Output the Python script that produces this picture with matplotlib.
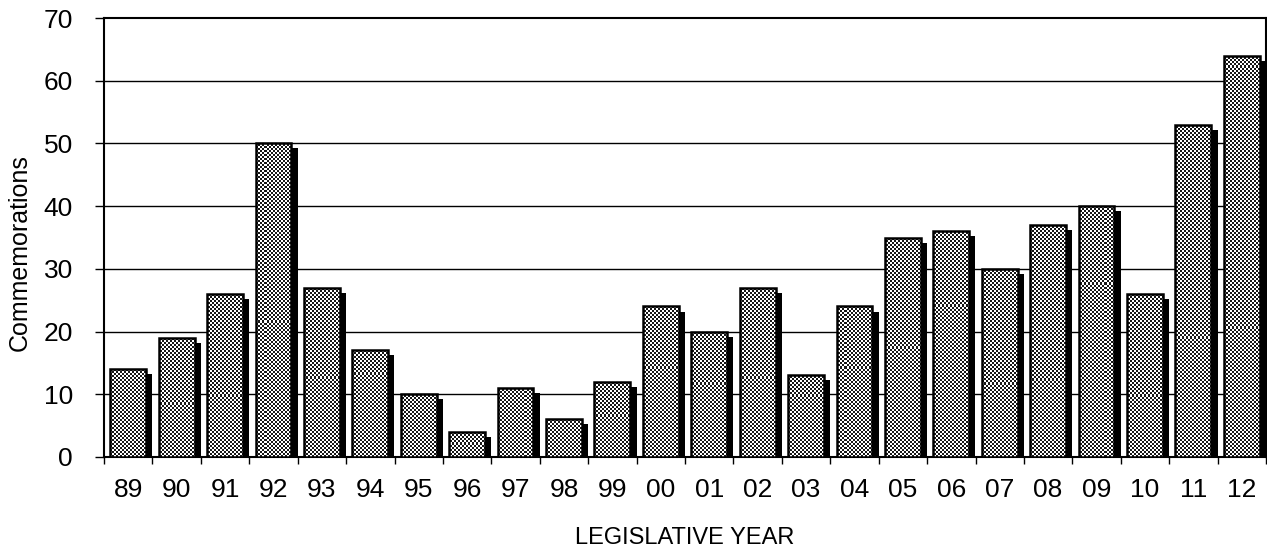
import numpy as np
import matplotlib
matplotlib.use("Agg")
import matplotlib.pyplot as plt
from matplotlib.patches import Rectangle

plt.rcParams['font.family'] = ['Liberation Sans', 'DejaVu Sans']

# data
years = ['89', '90', '91', '92', '93', '94', '95', '96', '97', '98', '99', '00',
         '01', '02', '03', '04', '05', '06', '07', '08', '09', '10', '11', '12']
counts = [14, 19, 26, 50, 27, 17, 10, 4, 11, 6, 12, 24,
          20, 27, 13, 24, 35, 36, 30, 37, 40, 26, 53, 64]

W, H = 1267, 550
fig = plt.figure(figsize=(W / 100, H / 100), dpi=100)
ax = fig.add_axes([104 / W, (H - 457) / H, (1266 - 104) / W, (457 - 18) / H])

n = len(years)
x = np.arange(n)
bw = 0.74
dx, dy = 0.13, 0.8   # shadow offset (data units)

ax.set_xlim(-0.5, n - 0.5)
ax.set_ylim(0, 70)

# fine checkerboard used as bar fill
cell = 2
nx, ny = (1266 - 104) // cell, (457 - 18) // cell
checker = (np.add.outer(np.arange(ny), np.arange(nx)) % 2).astype(float)

for xi, v in zip(x, counts):
    # shadow
    ax.add_patch(Rectangle((xi - bw / 2 + dx, 0), bw, max(v - dy, 0),
                           facecolor='black', edgecolor='none', zorder=3))
    bar = Rectangle((xi - bw / 2, 0), bw, v, facecolor='white',
                    edgecolor='none', zorder=4)
    ax.add_patch(bar)
    im = ax.imshow(checker, cmap='gray', vmin=-0.1, vmax=1,
                   extent=(-0.5, n - 0.5, 0, 70),
                   interpolation='nearest', aspect='auto', zorder=4.5)
    im.set_clip_path(bar)
    ax.add_patch(Rectangle((xi - bw / 2, 0), bw, v, facecolor='none',
                           edgecolor='black', linewidth=1.8, zorder=5))

# grid
for g in range(10, 70, 10):
    ax.axhline(g, color='black', linewidth=1, zorder=1)

for s in ax.spines.values():
    s.set_linewidth(1.5)
    s.set_color('black')

ax.set_yticks(range(0, 71, 10))
ax.tick_params(axis='y', length=6.5, width=1, labelsize=19, pad=16)
ax.set_xticks(x)
ax.set_xticklabels(years)
ax.set_xticks(np.arange(-0.5, n, 1), minor=True)
ax.tick_params(axis='x', which='major', length=0, labelsize=19, pad=15)
ax.tick_params(axis='x', which='minor', length=5, width=1)

ax.set_ylabel('Commemorations', fontsize=18)
ax.yaxis.set_label_coords(-0.062, 0.465)
ax.set_xlabel('LEGISLATIVE YEAR', fontsize=17, labelpad=18)

fig.savefig('out.png', dpi=100)
